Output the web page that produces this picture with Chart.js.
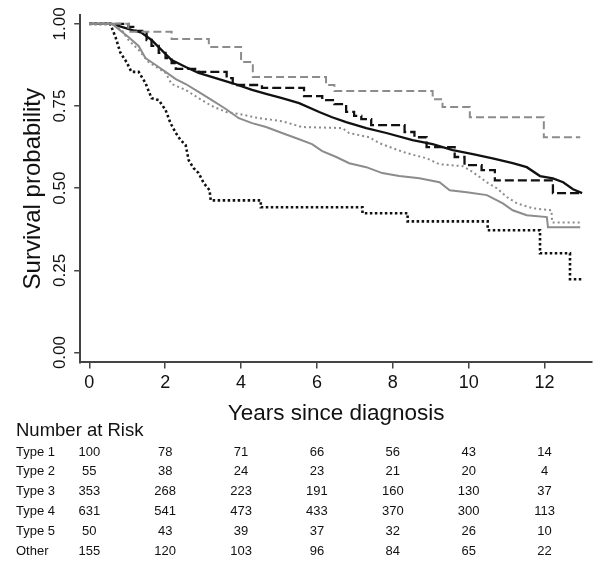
<!DOCTYPE html>
<html lang="en">
<head>
    <meta charset="UTF-8">
    <title>Survival by type</title>
    <script src="https://cdn.jsdelivr.net/npm/chart.js"></script>
    <style>
        html, body { margin: 0; padding: 0; background: #fff; }
        #wrap { width: 600px; height: 565px; }
    </style>
</head>
<body>
    <div id="wrap"><canvas id="myChart" width="600" height="565"></canvas></div>
    <script>
        // survival curves (years, survival)
        // type 1 and type 5 are drawn as steps, the rest follow the traced outline
        const type1Time = [0, 1.03, 1.22, 1.51, 1.64, 1.83, 2.01, 2.17, 2.28, 2.88, 3.62, 3.78, 4.55, 5.66, 6.14, 6.46, 6.77, 6.98, 7.17, 7.43, 8.31, 8.57, 8.89, 9.63, 9.89, 10.34, 10.69, 12.22, 12.94];
        const type1Surv = [1, 0.991, 0.979, 0.951, 0.933, 0.912, 0.896, 0.881, 0.863, 0.854, 0.835, 0.814, 0.805, 0.780, 0.768, 0.756, 0.732, 0.720, 0.710, 0.692, 0.671, 0.655, 0.625, 0.595, 0.570, 0.555, 0.524, 0.485, 0.485];

        const type2Time = [0, 0.55, 0.69, 0.82, 0.98, 1.11, 1.30, 1.48, 1.64, 1.83, 2.01, 2.14, 2.28, 2.41, 2.54, 2.62, 2.75, 2.88, 3.02, 3.17, 3.20, 4.52, 4.52, 7.20, 7.20, 8.39, 8.39, 10.50, 10.50, 11.88, 11.88, 12.67, 12.67, 12.99];
        const type2Surv = [1, 1, 0.960, 0.912, 0.884, 0.854, 0.854, 0.820, 0.774, 0.768, 0.738, 0.698, 0.668, 0.646, 0.631, 0.585, 0.561, 0.546, 0.515, 0.494, 0.463, 0.463, 0.442, 0.442, 0.424, 0.424, 0.399, 0.399, 0.372, 0.372, 0.302, 0.302, 0.223, 0.223];

        const type3Time = [0, 0.6, 1.03, 1.30, 1.48, 1.75, 2.01, 2.28, 2.54, 2.88, 3.23, 3.60, 3.94, 4.29, 4.66, 5.08, 5.53, 5.87, 6.14, 6.51, 6.85, 7.30, 7.72, 8.17, 8.70, 9.23, 9.50, 9.95, 10.48, 10.90, 11.16, 11.53, 12.06, 12.09, 12.94];
        const type3Surv = [1, 1, 0.960, 0.933, 0.896, 0.875, 0.854, 0.832, 0.817, 0.793, 0.768, 0.741, 0.713, 0.698, 0.686, 0.668, 0.649, 0.634, 0.613, 0.595, 0.576, 0.564, 0.546, 0.537, 0.530, 0.518, 0.494, 0.488, 0.479, 0.454, 0.433, 0.418, 0.412, 0.381, 0.381];

        const type4Time = [0, 0.6, 1.11, 1.38, 1.64, 1.90, 2.17, 2.54, 2.88, 3.33, 3.76, 4.29, 4.66, 5.08, 5.53, 6.06, 6.40, 6.77, 7.30, 7.83, 8.52, 9.05, 9.58, 10.11, 10.63, 11.16, 11.53, 11.88, 12.22, 12.49, 12.75, 12.99];
        const type4Surv = [1, 1, 0.982, 0.973, 0.951, 0.921, 0.890, 0.869, 0.851, 0.835, 0.820, 0.799, 0.787, 0.774, 0.759, 0.732, 0.716, 0.701, 0.683, 0.668, 0.646, 0.634, 0.616, 0.604, 0.591, 0.576, 0.564, 0.537, 0.530, 0.518, 0.497, 0.485];

        const type5Time = [0, 1.03, 2.17, 3.15, 4.00, 4.31, 6.24, 6.46, 9.05, 9.31, 10.03, 11.98, 12.94];
        const type5Surv = [1, 0.976, 0.954, 0.930, 0.884, 0.838, 0.814, 0.796, 0.771, 0.747, 0.716, 0.655, 0.655];

        const otherTime = [0, 0.6, 0.85, 1.03, 1.30, 1.56, 2.01, 2.17, 2.54, 2.88, 3.23, 3.60, 3.94, 4.47, 5.08, 5.61, 6.67, 6.85, 7.38, 7.65, 7.99, 8.36, 8.89, 9.23, 9.84, 10.03, 10.29, 10.48, 10.74, 11.01, 11.27, 11.69, 12.18, 12.20, 12.94];
        const otherSurv = [1, 1, 0.982, 0.951, 0.921, 0.884, 0.851, 0.817, 0.799, 0.774, 0.750, 0.732, 0.726, 0.713, 0.704, 0.686, 0.683, 0.668, 0.655, 0.637, 0.622, 0.607, 0.591, 0.573, 0.567, 0.555, 0.534, 0.518, 0.500, 0.473, 0.454, 0.439, 0.433, 0.396, 0.396];

        const yTicks = [0, 0.25, 0.5, 0.75, 1];
        const xTicks = [0, 2, 4, 6, 8, 10, 12];

        // number at risk table
        const groups = ['Type 1', 'Type 2', 'Type 3', 'Type 4', 'Type 5', 'Other'];
        const riskTimes = [0, 2, 4, 6, 8, 10, 12];
        const riskType1 = [100, 78, 71, 66, 56, 43, 14];
        const riskType2 = [55, 38, 24, 23, 21, 20, 4];
        const riskType3 = [353, 268, 223, 191, 160, 130, 37];
        const riskType4 = [631, 541, 473, 433, 370, 300, 113];
        const riskType5 = [50, 43, 39, 37, 32, 26, 10];
        const riskOther = [155, 120, 103, 96, 84, 65, 22];
        const atRisk = [riskType1, riskType2, riskType3, riskType4, riskType5, riskOther];

        const FONT = '"Liberation Sans", Arial, sans-serif';
        const BLACK = '#111111';
        const GRAY = '#8c8c8c';

        function pts(ts, ss) {
            return ts.map((t, i) => ({ x: t, y: ss[i] }));
        }

        function line(label, ts, ss, color, width, dash, stepped) {
            return {
                label: label,
                data: pts(ts, ss),
                borderColor: color,
                borderWidth: width,
                borderDash: dash,
                borderCapStyle: 'butt',
                borderJoinStyle: 'miter',
                stepped: stepped,
                tension: 0,
                pointRadius: 0,
                fill: false
            };
        }

        const riskTable = {
            id: 'riskTable',
            afterDraw(chart) {
                const ctx = chart.ctx;
                const xs = chart.scales.x;
                ctx.save();
                ctx.fillStyle = BLACK;
                ctx.textBaseline = 'middle';
                ctx.textAlign = 'left';
                ctx.font = '18.5px ' + FONT;
                ctx.fillText('Number at Risk', 16, 431);
                ctx.font = '13px ' + FONT;
                groups.forEach((g, i) => {
                    const y = 452 + i * 19.8;
                    ctx.textAlign = 'left';
                    ctx.fillText(g, 16, y);
                    ctx.textAlign = 'center';
                    riskTimes.forEach((t, j) => {
                        ctx.fillText(String(atRisk[i][j]), xs.getPixelForValue(t), y);
                    });
                });
                ctx.restore();
            }
        };

        const ctx = document.getElementById('myChart').getContext('2d');
        const myChart = new Chart(ctx, {
            type: 'line',
            data: {
                datasets: [
                    line('Type 5', type5Time, type5Surv, GRAY, 2, [8, 4], true),
                    line('Other', otherTime, otherSurv, GRAY, 2, [2, 3], false),
                    line('Type 3', type3Time, type3Surv, GRAY, 2, [], false),
                    line('Type 1', type1Time, type1Surv, BLACK, 2.3, [9, 4], true),
                    line('Type 4', type4Time, type4Surv, BLACK, 2.3, [], false),
                    line('Type 2', type2Time, type2Surv, BLACK, 2.6, [2.5, 2.5], false)
                ]
            },
            options: {
                responsive: false,
                animation: false,
                layout: { padding: { left: 25, right: 8, top: 15, bottom: 136 } },
                plugins: {
                    legend: { display: false },
                    tooltip: { enabled: false }
                },
                scales: {
                    x: {
                        type: 'linear',
                        min: -0.24,
                        max: 13.25,
                        afterBuildTicks: (s) => { s.ticks = xTicks.map(v => ({ value: v })); },
                        ticks: { color: BLACK, font: { family: FONT, size: 18 }, padding: 4, maxRotation: 0 },
                        grid: { drawOnChartArea: false, drawTicks: true, tickLength: 6, color: '#444', lineWidth: 1.5 },
                        border: { display: true, color: '#444', width: 2 },
                        title: { display: true, text: 'Years since diagnosis', color: BLACK, font: { family: FONT, size: 22.5 }, padding: { top: 2, bottom: 2 } }
                    },
                    y: {
                        type: 'linear',
                        min: -0.03,
                        max: 1.027,
                        afterBuildTicks: (s) => { s.ticks = yTicks.map(v => ({ value: v })); },
                        ticks: {
                            color: BLACK,
                            font: { family: FONT, size: 17 },
                            minRotation: 90,
                            maxRotation: 90,
                            crossAlign: 'center',
                            padding: -3,
                            callback: (v) => Number(v).toFixed(2)
                        },
                        grid: { drawOnChartArea: false, drawTicks: true, tickLength: 6, color: '#444', lineWidth: 1.5 },
                        border: { display: true, color: '#444', width: 2 },
                        title: { display: true, text: 'Survival probability', color: BLACK, font: { family: FONT, size: 24 }, padding: { top: -6.5, bottom: 12.5 } }
                    }
                }
            },
            plugins: [riskTable]
        });
    </script>
</body>
</html>
